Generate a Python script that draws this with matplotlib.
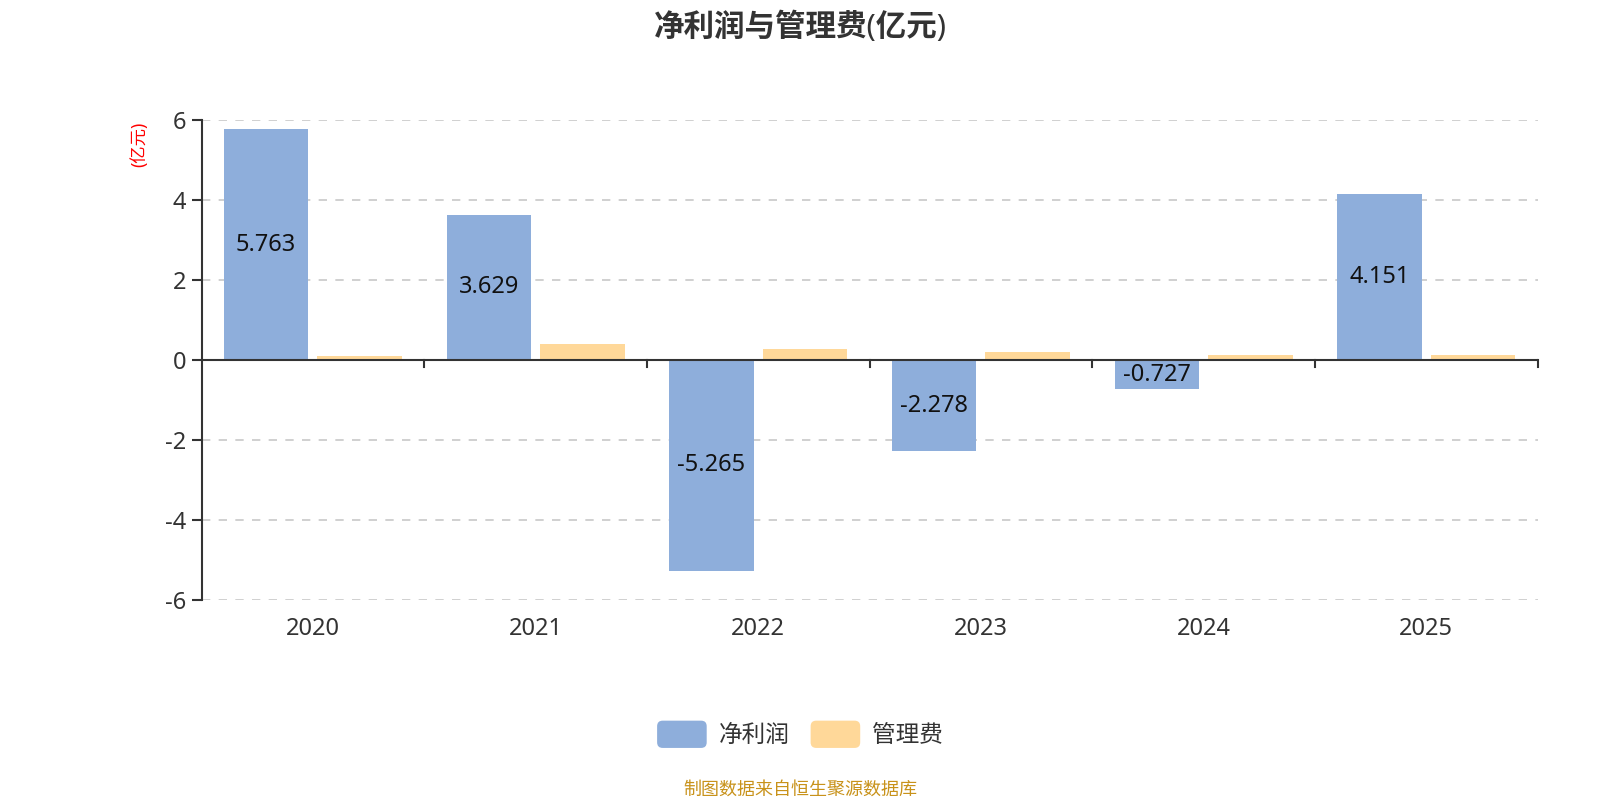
import matplotlib.pyplot as plt
from matplotlib.legend_handler import HandlerPatch
from matplotlib.patches import FancyBboxPatch
import numpy as np

plt.rcParams['font.family'] = ['Noto Sans', 'Noto Sans CJK SC', 'DejaVu Sans']
plt.rcParams['axes.unicode_minus'] = False

years = ['2020', '2021', '2022', '2023', '2024', '2025']
net_profit = [5.763, 3.629, -5.265, -2.278, -0.727, 4.151]
admin_fee = [0.11, 0.41, 0.27, 0.21, 0.13, 0.13]

blue = '#8eaedb'
orange = '#ffd899'


class RoundHandler(HandlerPatch):
    def create_artists(self, legend, orig_handle, xdescent, ydescent, width, height, fontsize, trans):
        p = FancyBboxPatch((-xdescent, -ydescent), width, height,
                           boxstyle='round,pad=0,rounding_size=4',
                           facecolor=orig_handle.get_facecolor(), edgecolor='none', transform=trans)
        return [p]


fig = plt.figure(figsize=(16, 8), dpi=100)
ax = fig.add_axes([0.126, 0.25, 0.835, 0.6])

x = np.arange(len(years))
w = 0.38
b1 = ax.bar(x - 0.21, net_profit, w, color=blue)
b2 = ax.bar(x + 0.21, admin_fee, w, color=orange)

for xi, v in zip(x, net_profit):
    ax.text(xi - 0.21, v / 2, f'{v:.3f}', ha='center', va='center', fontsize=17, color='#111111')

ax.set_xlim(-0.5, len(years) - 0.5)
ax.set_ylim(-6, 6)
ax.set_yticks([-6, -4, -2, 0, 2, 4, 6])
ax.yaxis.grid(True, linestyle=(0, (5, 5)), color='#c8c8c8', linewidth=1.2)
ax.set_axisbelow(True)

for s in ['top', 'right', 'bottom']:
    ax.spines[s].set_visible(False)
ax.spines['left'].set_color('#333333')
ax.spines['left'].set_linewidth(1.5)
ax.axhline(0, color='#333333', linewidth=1.5, zorder=3)

ax.set_xticks(x)
ax.set_xticklabels(years)
ax.tick_params(axis='x', length=0, labelsize=17, labelcolor='#333333', pad=12)
ax.tick_params(axis='y', length=7, width=1.5, color='#333333', labelsize=17, labelcolor='#333333', pad=4)
# tick marks between categories on the zero line
for b in np.arange(0.5, len(years), 1.0):
    ax.plot([b, b], [0, -0.18], color='#333333', linewidth=1.5, clip_on=False, zorder=3)

fig.text(0.087, 0.819, '(亿元)', rotation=90, color='red', fontsize=12.5, ha='center', va='center')

fig.suptitle('净利润与管理费(亿元)', x=0.5, y=0.985, fontsize=22, fontweight='bold', color='#333333')

leg = ax.legend(handles=[b1.patches[0], b2.patches[0]], labels=['净利润', '管理费'],
                loc='center', ncol=2, frameon=False, fontsize=17, handlelength=2.1, handleheight=1.4,
                columnspacing=0.9, handletextpad=0.5, labelcolor='#333333',
                handler_map={b1.patches[0]: RoundHandler(), b2.patches[0]: RoundHandler()})
leg.set_bbox_to_anchor((0.5, 0.082), transform=fig.transFigure)

fig.text(0.5, 0.013, '制图数据来自恒生聚源数据库', ha='center', va='center', fontsize=13, color='#c8921a')

fig.savefig('out.png', dpi=100)
